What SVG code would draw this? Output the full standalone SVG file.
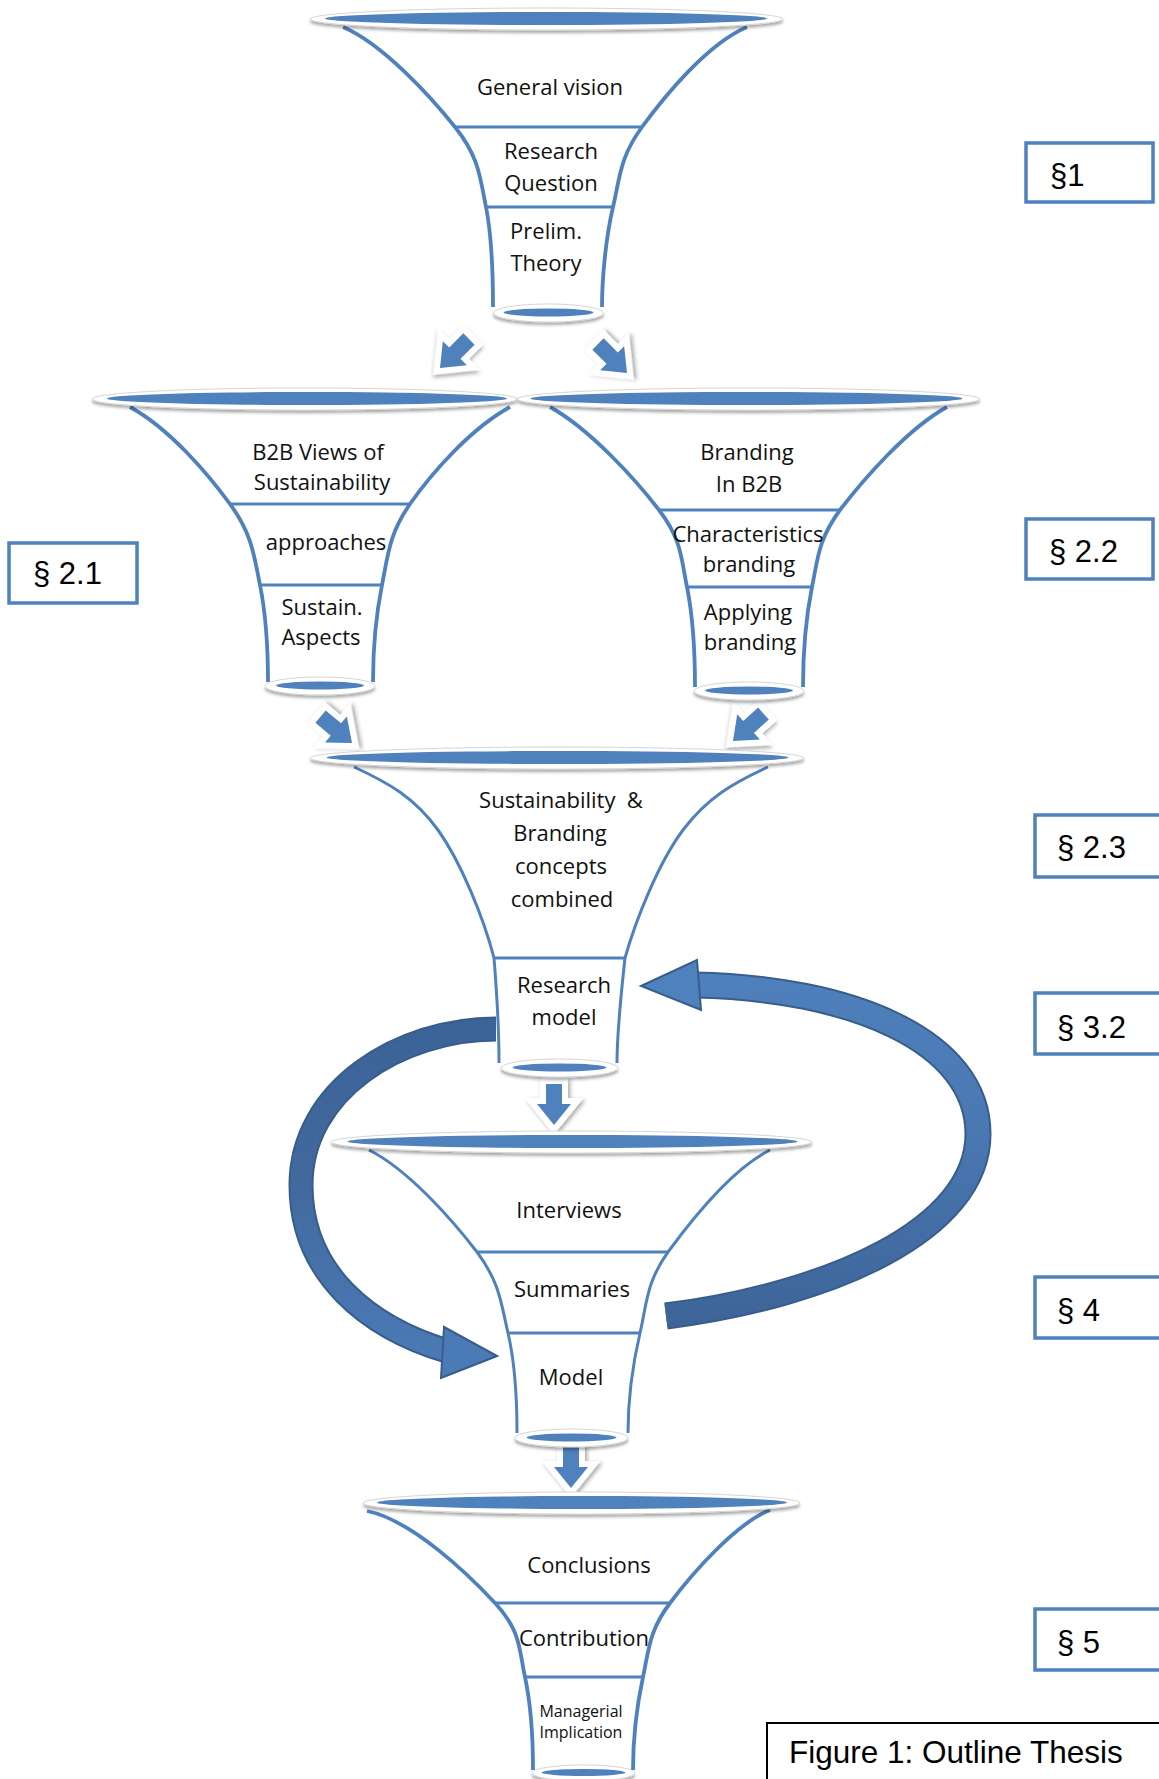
<svg xmlns="http://www.w3.org/2000/svg" width="1159" height="1779" viewBox="0 0 1159 1779">
<defs>
<style>
.side{fill:none;stroke:#4F81BD;stroke-width:3.8}
.thin .side{stroke-width:3}
.div{fill:none;stroke:#4F81BD;stroke-width:3.2}
.rim{fill:#fff;stroke:#d6d6d6;stroke-width:1;filter:url(#rimShadow)}
.lip{fill:#4F81BD}
.t{font-family:"Open Sans","Noto Sans",sans-serif;font-size:22px;fill:#111;text-anchor:middle}
.s{font-size:16px}
.sec rect{fill:#fff;stroke:#4F81BD;stroke-width:3.5}
.sec text{font-family:"Liberation Sans",Arial,sans-serif;font-size:31px;fill:#000}
.shaftEdge{fill:none;stroke:#385D8A}
.head{stroke:#385D8A;stroke-width:2;stroke-linejoin:miter}
</style>
<filter id="rimShadow" x="-5%" y="-60%" width="110%" height="260%">
  <feDropShadow dx="0" dy="2.5" stdDeviation="1.6" flood-color="#000" flood-opacity="0.35"/>
</filter>
<filter id="arrowShadow" x="-50%" y="-50%" width="200%" height="200%">
  <feDropShadow dx="2" dy="2" stdDeviation="2" flood-color="#000" flood-opacity="0.35"/>
</filter>
<!-- small block arrow, tip at origin, pointing down -->
<g id="blk">
  <polygon points="-8,-41 8,-41 8,-21 17,-21 0,0 -17,-21 -8,-21" fill="#fff" stroke="#fff" stroke-width="12" stroke-linejoin="miter" filter="url(#arrowShadow)"/>
  <polygon points="-8,-41 8,-41 8,-21 17,-21 0,0 -17,-21 -8,-21" fill="#4F81BD"/>
</g>
<linearGradient id="gL" gradientUnits="userSpaceOnUse" x1="0" y1="1015" x2="0" y2="1380">
  <stop offset="0" stop-color="#3C6397"/>
  <stop offset="0.45" stop-color="#41699E"/>
  <stop offset="1" stop-color="#4C7CB8"/>
</linearGradient>
<linearGradient id="gR" gradientUnits="userSpaceOnUse" x1="0" y1="960" x2="0" y2="1335">
  <stop offset="0" stop-color="#4F81BD"/>
  <stop offset="0.45" stop-color="#4A78B2"/>
  <stop offset="1" stop-color="#3C6397"/>
</linearGradient>
</defs>

<rect width="1159" height="1779" fill="#fff"/>

<!-- connectors -->
<g id="connectors">
  <use href="#blk" transform="translate(440,368) rotate(45)"/>
  <use href="#blk" transform="translate(627,373) rotate(-45)"/>
  <use href="#blk" transform="translate(352,743) rotate(-50)"/>
  <use href="#blk" transform="translate(733,741) rotate(48)"/>
  <use href="#blk" transform="translate(554,1125)"/>
  <use href="#blk" transform="translate(571,1488)"/>

  <!-- loop: research model -> model -->
  <path class="shaftEdge" stroke-width="25" d="M 496 1029 C 400 1029, 301 1090, 301 1185 C 301 1275, 370 1328, 447 1351"/>
  <path fill="none" stroke="url(#gL)" stroke-width="21" d="M 496 1029 C 400 1029, 301 1090, 301 1185 C 301 1275, 370 1328, 447 1351"/>
  <polygon class="head" fill="#4B7BB7" points="497,1356 444,1327 441,1378"/>

  <!-- loop: summaries -> research model -->
  <path class="shaftEdge" stroke-width="27" d="M 666 1316 C 830 1295, 978 1230, 978 1134 C 978 1040, 850 988, 695 985"/>
  <path fill="none" stroke="url(#gR)" stroke-width="23" d="M 666 1316 C 830 1295, 978 1230, 978 1134 C 978 1040, 850 988, 695 985"/>
  <polygon class="head" fill="#4F81BD" points="641,986 697,960 701,1010"/>
</g>

<!-- funnel 1 -->
<g id="funnel-intro">
  <path class="side" d="M 343 27 C 383 44, 431 97, 455 127 C 479 157, 480 177, 486 207 C 492 237, 493 277, 493 307"/>
  <path class="side" d="M 747 27 C 707 44, 664 97, 642 127 C 620 157, 620 177, 613 207 C 606 237, 602 277, 602 307"/>
  <path class="div" d="M 455 127 H 642 M 486 207 H 613"/>
  <ellipse class="rim" cx="546.5" cy="19" rx="236.5" ry="11"/>
  <ellipse class="lip" cx="546" cy="18.5" rx="221" ry="6.5"/>
  <ellipse class="rim" cx="548.5" cy="313" rx="55" ry="9"/>
  <ellipse class="lip" cx="548.5" cy="312.5" rx="45" ry="4"/>
  <text class="t" x="550" y="95">General vision</text>
  <text class="t" x="551" y="159">Research</text>
  <text class="t" x="551" y="191">Question</text>
  <text class="t" x="546" y="239">Prelim.</text>
  <text class="t" x="546" y="271">Theory</text>
</g>

<!-- funnel 2 -->
<g id="funnel-sustainability">
  <path class="side" d="M 130 407 C 170 429, 208 474, 230 504 C 252 534, 254 555, 260 585 C 266 615, 268 650, 268 682"/>
  <path class="side" d="M 510 407 C 470 429, 431 474, 410 504 C 389 534, 388 555, 382 585 C 376 615, 373 650, 373 682"/>
  <path class="div" stroke-width="4.5" d="M 230 504 H 410"/>
  <path class="div" d="M 260 585 H 382"/>
  <ellipse class="rim" cx="304.5" cy="399" rx="212.5" ry="11"/>
  <ellipse class="lip" cx="307" cy="398.5" rx="200" ry="6.5"/>
  <ellipse class="rim" cx="320" cy="686" rx="55" ry="9"/>
  <ellipse class="lip" cx="320" cy="685.5" rx="44" ry="4"/>
  <text class="t" x="318" y="460">B2B Views of</text>
  <text class="t" x="322" y="490">Sustainability</text>
  <text class="t" x="326" y="550">approaches</text>
  <text class="t" x="322" y="615">Sustain.</text>
  <text class="t" x="321" y="645">Aspects</text>
</g>

<!-- funnel 3 -->
<g id="funnel-branding">
  <path class="side" d="M 550 407 C 590 429, 636 480, 659 510 C 682 540, 681 558, 687 587 C 693 617, 695 655, 695 687"/>
  <path class="side" d="M 947 407 C 907 429, 863 480, 840 510 C 818 540, 818 558, 812 587 C 806 617, 803 655, 803 687"/>
  <path class="div" d="M 659 510 H 840 M 687 587 H 812"/>
  <ellipse class="rim" cx="748.5" cy="399" rx="231.5" ry="11"/>
  <ellipse class="lip" cx="746.5" cy="398.5" rx="216" ry="6.5"/>
  <ellipse class="rim" cx="749" cy="691" rx="55" ry="9"/>
  <ellipse class="lip" cx="749" cy="690.5" rx="44" ry="4"/>
  <text class="t" x="747" y="460">Branding</text>
  <text class="t" x="749" y="492">In B2B</text>
  <text class="t" x="748" y="542">Characteristics</text>
  <text class="t" x="749" y="572">branding</text>
  <text class="t" x="748" y="620">Applying</text>
  <text class="t" x="750" y="650">branding</text>
</g>

<!-- funnel 4 -->
<g id="funnel-combined" class="thin">
  <path class="side" d="M 354 767 C 389 783, 415 798, 438 830 C 461 862, 484 919, 494 958 C 497 995, 499 1030, 499 1063"/>
  <path class="side" d="M 768 767 C 733 783, 707 798, 683 830 C 659 862, 636 919, 625 958 C 621 995, 617 1030, 617 1063"/>
  <path class="div" d="M 494 958 H 625"/>
  <ellipse class="rim" cx="557" cy="758" rx="247" ry="11"/>
  <ellipse class="lip" cx="557.5" cy="757.5" rx="231" ry="6.5"/>
  <ellipse class="rim" cx="559.5" cy="1068" rx="58.5" ry="9"/>
  <ellipse class="lip" cx="559.5" cy="1067.5" rx="47" ry="4"/>
  <text class="t" x="561" y="808" style="white-space:pre">Sustainability  &amp;</text>
  <text class="t" x="560" y="841">Branding</text>
  <text class="t" x="561" y="874">concepts</text>
  <text class="t" x="562" y="907">combined</text>
  <text class="t" x="564" y="993">Research</text>
  <text class="t" x="564" y="1025">model</text>
</g>

<!-- funnel 5 -->
<g id="funnel-empirical" class="thin">
  <path class="side" d="M 369 1150 C 409 1170, 454 1222, 477 1252 C 500 1283, 501 1303, 508 1333 C 515 1363, 517 1400, 517 1433"/>
  <path class="side" d="M 770 1150 C 730 1170, 690 1222, 668 1252 C 646 1283, 647 1303, 640 1333 C 633 1363, 628 1400, 628 1433"/>
  <path class="div" d="M 477 1252 H 668 M 508 1333 H 640"/>
  <ellipse class="rim" cx="571.5" cy="1142" rx="240.5" ry="11"/>
  <ellipse class="lip" cx="572.5" cy="1141.5" rx="225" ry="6.5"/>
  <ellipse class="rim" cx="571.5" cy="1438" rx="56.5" ry="9"/>
  <ellipse class="lip" cx="571.5" cy="1437.5" rx="45" ry="4"/>
  <text class="t" x="569" y="1218">Interviews</text>
  <text class="t" x="572" y="1297">Summaries</text>
  <text class="t" x="571" y="1385">Model</text>
</g>

<!-- funnel 6 -->
<g id="funnel-conclusions">
  <path class="side" d="M 367 1511 C 412 1520, 469 1575, 495 1603 C 521 1631, 519 1649, 525 1677 C 531 1705, 533 1740, 533 1770"/>
  <path class="side" d="M 770 1510 C 735 1524, 691 1575, 670 1603 C 649 1631, 649 1649, 643 1677 C 637 1705, 633 1740, 633 1770"/>
  <path class="div" d="M 495 1603 H 670 M 525 1677 H 643"/>
  <ellipse class="rim" cx="581.5" cy="1503" rx="218.5" ry="11"/>
  <ellipse class="lip" cx="582" cy="1502.5" rx="205" ry="6.5"/>
  <ellipse class="rim" cx="583.5" cy="1773" rx="51.5" ry="8"/>
  <ellipse class="lip" cx="583.5" cy="1772.5" rx="42" ry="3.5"/>
  <text class="t" x="589" y="1573">Conclusions</text>
  <text class="t" x="584" y="1646">Contribution</text>
  <text class="t s" x="581" y="1717">Managerial</text>
  <text class="t s" x="581" y="1738">Implication</text>
</g>

<!-- section labels -->
<g id="sec-1" class="sec"><rect x="1026" y="143" width="127" height="59"/><text x="1050" y="186">§1</text></g>
<g id="sec-2-1" class="sec"><rect x="9" y="543" width="128" height="60"/><text x="33" y="584">§ 2.1</text></g>
<g id="sec-2-2" class="sec"><rect x="1026" y="519" width="127" height="60"/><text x="1049" y="562">§ 2.2</text></g>
<g id="sec-2-3" class="sec"><rect x="1035" y="815" width="130" height="62"/><text x="1057" y="858">§ 2.3</text></g>
<g id="sec-3-2" class="sec"><rect x="1035" y="993" width="130" height="61"/><text x="1057" y="1038">§ 3.2</text></g>
<g id="sec-4" class="sec"><rect x="1035" y="1277" width="130" height="61"/><text x="1057" y="1321">§ 4</text></g>
<g id="sec-5" class="sec"><rect x="1035" y="1609" width="130" height="61"/><text x="1057" y="1653">§ 5</text></g>

<!-- caption -->
<g id="caption">
  <rect x="767" y="1723" width="420" height="80" fill="#fff" stroke="#000" stroke-width="2"/>
  <text x="789" y="1763" font-family="Liberation Sans, Arial, sans-serif" font-size="31.5" fill="#000">Figure 1: Outline Thesis</text>
</g>
</svg>
